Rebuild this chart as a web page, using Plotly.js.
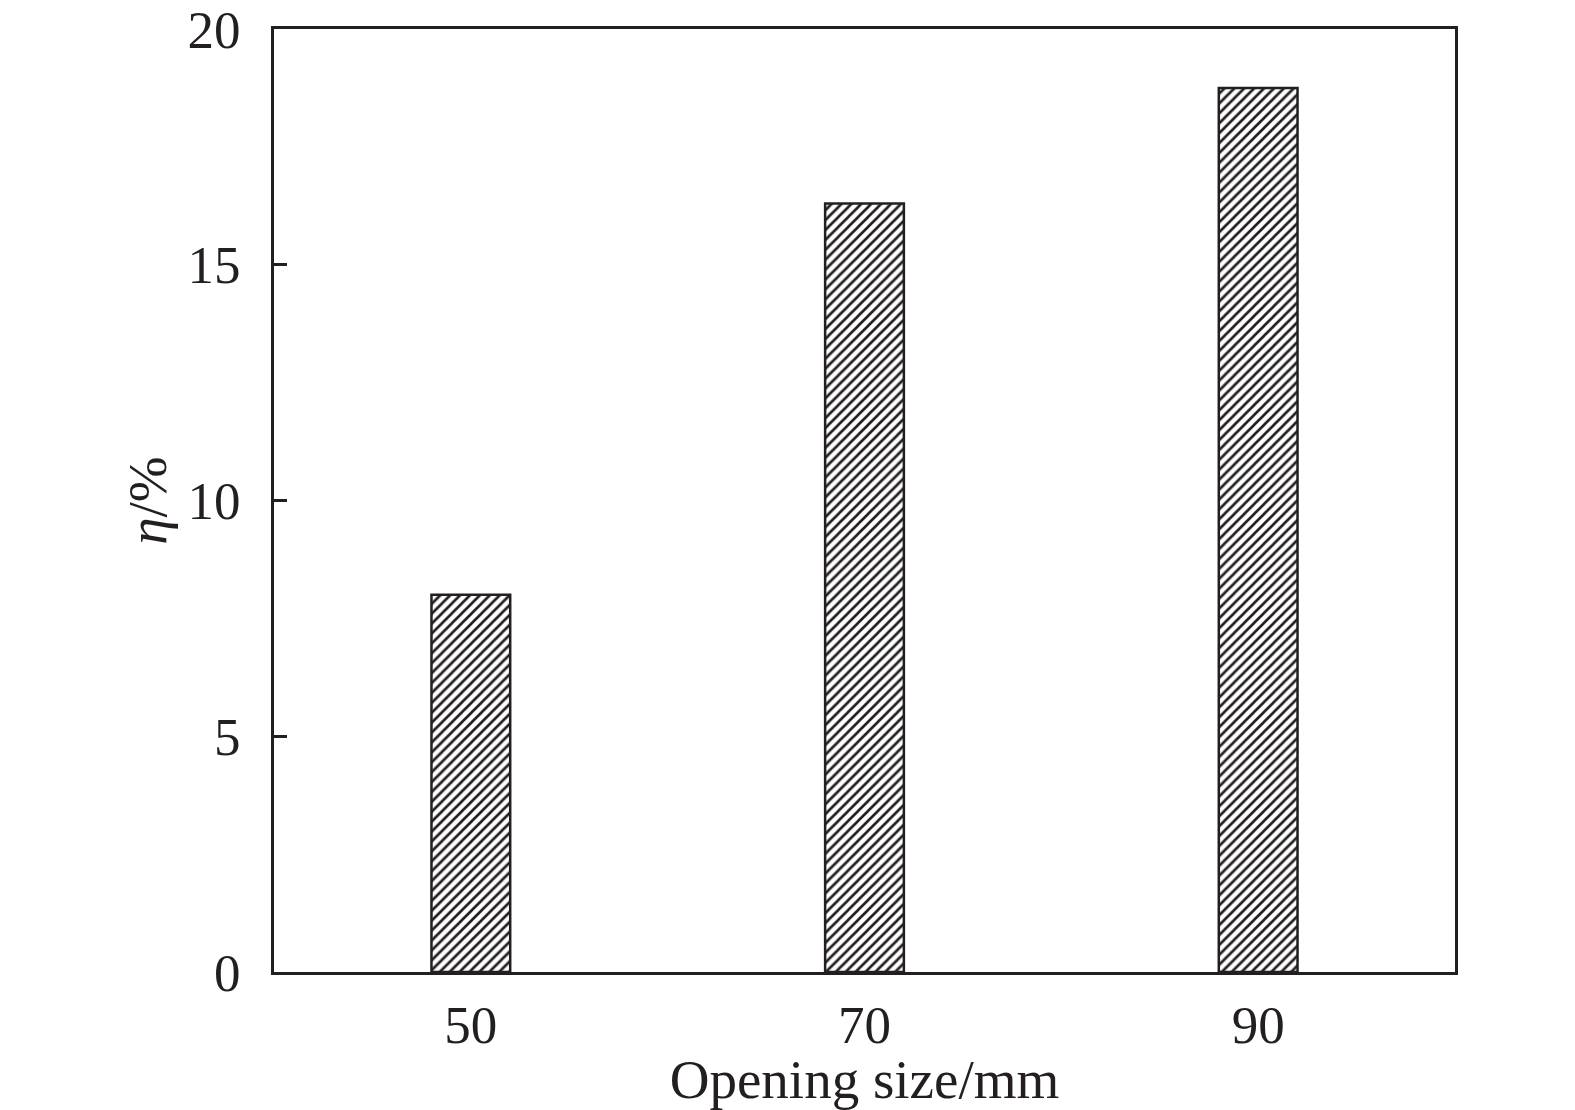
<!DOCTYPE html>
<html>
<head>
<meta charset="utf-8">
<script src="https://cdn.plot.ly/plotly-3.0.1.min.js"></script>
<style>html,body{margin:0;padding:0;background:#fff;}#chart{width:1575px;height:1110px;}</style>
</head>
<body>
<div id="chart"></div>
<script>
const openingSize = [50, 70, 90];
const eta = [8.0, 16.3, 18.75];
const xTickLabels = ['50', '70', '90'];
const yTickVals = [0, 5, 10, 15, 20];

const ink = '#231f20';
const font = 'Liberation Serif, Times New Roman, serif';

const trace = {
  type: 'bar',
  x: openingSize,
  y: eta,
  width: 4,
  marker: {
    color: '#ffffff',
    line: {color: ink, width: 2.5},
    pattern: {shape: '/', fgcolor: ink, bgcolor: '#ffffff', size: 7, solidity: 0.38}
  },
  hoverinfo: 'x+y'
};

const layout = {
  width: 1575,
  height: 1110,
  paper_bgcolor: '#ffffff',
  plot_bgcolor: '#ffffff',
  showlegend: false,
  margin: {l: 274, r: 120, t: 29, b: 138},
  font: {family: font, color: ink, size: 52},
  xaxis: {
    range: [40, 100],
    tickmode: 'array',
    tickvals: openingSize,
    ticktext: xTickLabels,
    ticks: '',
    showgrid: false,
    zeroline: false,
    showline: true,
    mirror: true,
    linecolor: ink,
    linewidth: 3,
    ticklabelstandoff: 4,
    tickfont: {family: font, size: 53, color: ink},
    title: {text: 'Opening size/mm', font: {family: font, size: 55, color: ink}, standoff: 4}
  },
  yaxis: {
    range: [0, 20],
    tickmode: 'array',
    tickvals: yTickVals,
    ticks: 'inside',
    ticklen: 13,
    tickwidth: 3,
    tickcolor: ink,
    showgrid: false,
    zeroline: false,
    showline: true,
    mirror: true,
    linecolor: ink,
    linewidth: 3,
    ticklabelstandoff: 20,
    tickfont: {family: font, size: 53, color: ink},
    title: {text: '<i>η</i>/%', font: {family: font, size: 55, color: ink}, standoff: 4}
  }
};

Plotly.newPlot('chart', [trace], layout, {displayModeBar: false, staticPlot: true});
</script>
</body>
</html>
